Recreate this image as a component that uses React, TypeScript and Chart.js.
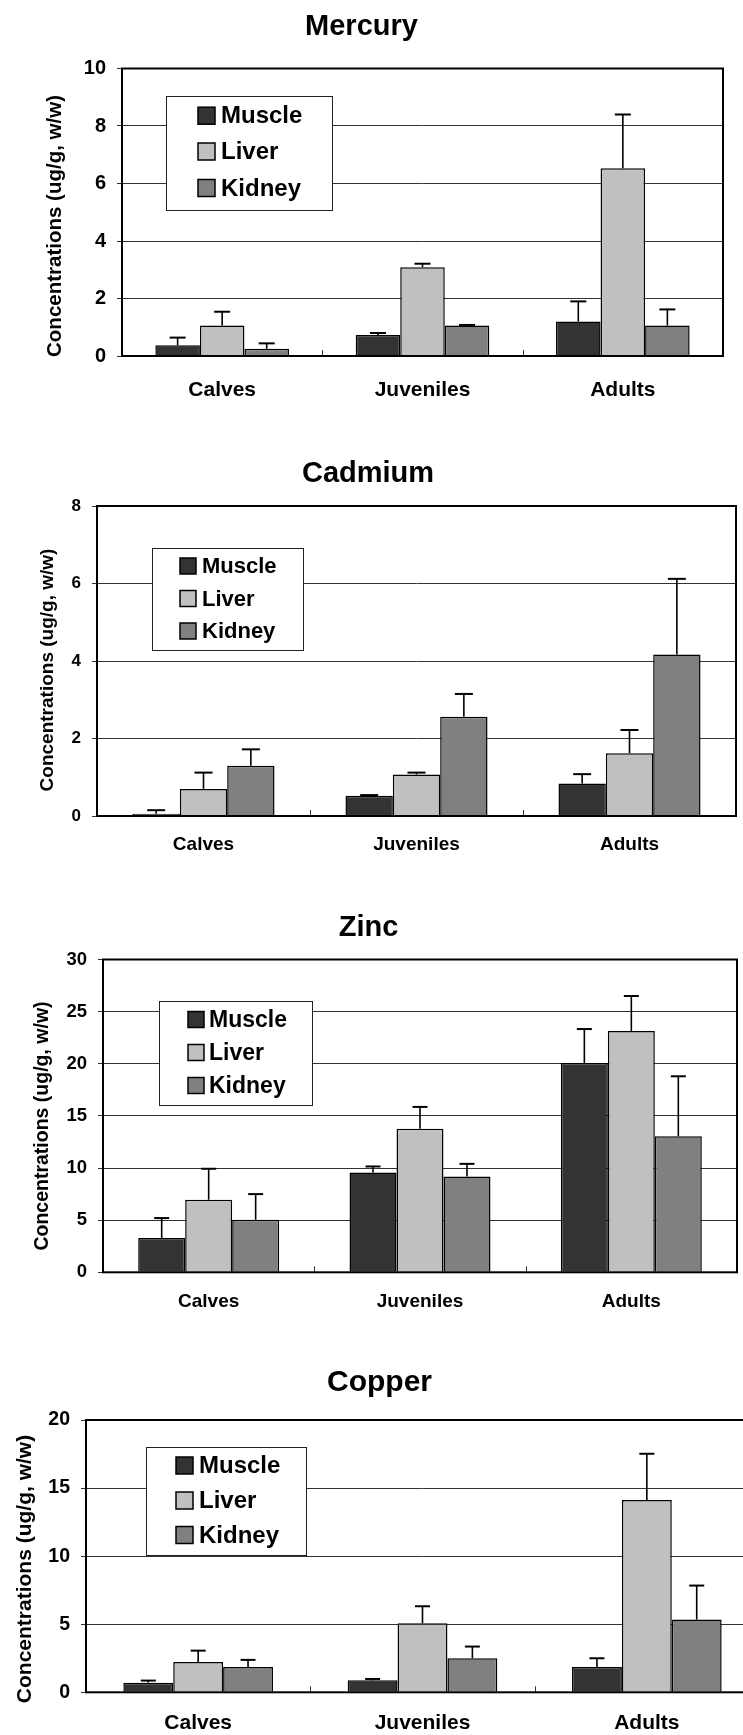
import React, { useEffect, useRef } from "react";
import { Chart, registerables } from "chart.js";

Chart.register(...registerables);

// ---------- data ----------
const CATEGORIES = ["Calves", "Juveniles", "Adults"];
const SERIES = ["Muscle", "Liver", "Kidney"];
const Y_TITLE = "Concentrations (ug/g, w/w)";

const MERCURY_TITLE = "Mercury";
const MERCURY_TICKS = [0, 2, 4, 6, 8, 10];
const MERCURY_MUSCLE = [0.37, 0.73, 1.2];
const MERCURY_MUSCLE_SD = [0.27, 0.07, 0.7];
const MERCURY_LIVER = [1.06, 3.09, 6.53];
const MERCURY_LIVER_SD = [0.48, 0.12, 1.87];
const MERCURY_KIDNEY = [0.25, 1.06, 1.06];
const MERCURY_KIDNEY_SD = [0.19, 0.02, 0.56];

const CADMIUM_TITLE = "Cadmium";
const CADMIUM_TICKS = [0, 2, 4, 6, 8];
const CADMIUM_MUSCLE = [0.06, 0.52, 0.84];
const CADMIUM_MUSCLE_SD = [0.09, 0.02, 0.24];
const CADMIUM_LIVER = [0.7, 1.07, 1.62];
const CADMIUM_LIVER_SD = [0.42, 0.05, 0.6];
const CADMIUM_KIDNEY = [1.3, 2.56, 4.17];
const CADMIUM_KIDNEY_SD = [0.42, 0.59, 1.95];

const ZINC_TITLE = "Zinc";
const ZINC_TICKS = [0, 5, 10, 15, 20, 25, 30];
const ZINC_MUSCLE = [3.3, 9.58, 20.08];
const ZINC_MUSCLE_SD = [1.9, 0.57, 3.25];
const ZINC_LIVER = [6.96, 13.76, 23.14];
const ZINC_LIVER_SD = [2.97, 2.1, 3.36];
const ZINC_KIDNEY = [5.04, 9.19, 13.05];
const ZINC_KIDNEY_SD = [2.46, 1.21, 5.75];

const COPPER_TITLE = "Copper";
const COPPER_TICKS = [0, 5, 10, 15, 20];
const COPPER_MUSCLE = [0.71, 0.88, 1.86];
const COPPER_MUSCLE_SD = [0.15, 0.1, 0.64];
const COPPER_LIVER = [2.23, 5.07, 14.12];
const COPPER_LIVER_SD = [0.83, 1.25, 3.4];
const COPPER_KIDNEY = [1.86, 2.5, 5.34];
const COPPER_KIDNEY_SD = [0.52, 0.86, 2.5];

// ---------- styles / layout ----------
const FONT = "'Liberation Sans', Arial, Helvetica, sans-serif";
const COLORS = ["#333333", "#c0c0c0", "#808080"];
const CANVAS_W = 790;

type Layout = {
  top: number;
  height: number;
  plotLeft: number;
  plotRight: number;
  plotTop: number;
  plotBottom: number;
  titleY: number;
  titleSize: number;
  tickSize: number;
  labelSize: number;
  labelY: number;
  yTitleX: number;
  yTitleY: number;
  yTitleSize: number;
  legend: {
    x: number;
    y: number;
    w: number;
    h: number;
    swX: number;
    sw: number;
    rows: number[];
    textX: number;
    textSize: number;
  };
  cap: number;
};

const MERCURY_LAYOUT: Layout = {
  top: 0, height: 406,
  plotLeft: 122, plotRight: 723, plotTop: 68.5, plotBottom: 356,
  titleY: 26.5, titleSize: 29, tickSize: 20, labelSize: 21, labelY: 390,
  yTitleX: 55, yTitleY: 226, yTitleSize: 20.5,
  legend: { x: 166, y: 96, w: 166, h: 114, swX: 198, sw: 17, rows: [115.7, 151.5, 188], textX: 221, textSize: 24 },
  cap: 16,
};
const CADMIUM_LAYOUT: Layout = {
  top: 440, height: 421,
  plotLeft: 97, plotRight: 736, plotTop: 506, plotBottom: 816,
  titleY: 473.5, titleSize: 29, tickSize: 17, labelSize: 19, labelY: 845,
  yTitleX: 48, yTitleY: 670, yTitleSize: 19,
  legend: { x: 152, y: 548, w: 151, h: 102, swX: 180, sw: 16, rows: [566, 598.5, 631], textX: 202, textSize: 22 },
  cap: 18,
};
const ZINC_LAYOUT: Layout = {
  top: 885, height: 432,
  plotLeft: 103, plotRight: 737, plotTop: 959.5, plotBottom: 1272.3,
  titleY: 927.5, titleSize: 29, tickSize: 18.5, labelSize: 19, labelY: 1302,
  yTitleX: 43, yTitleY: 1126, yTitleSize: 19.5,
  legend: { x: 159, y: 1001, w: 153, h: 104, swX: 188, sw: 16, rows: [1019.5, 1052.5, 1085.5], textX: 209, textSize: 23 },
  cap: 15,
};
const COPPER_LAYOUT: Layout = {
  top: 1335, height: 400,
  plotLeft: 86, plotRight: 759, plotTop: 1420, plotBottom: 1692.3,
  titleY: 1382.5, titleSize: 30, tickSize: 19.5, labelSize: 21, labelY: 1723,
  yTitleX: 25, yTitleY: 1569, yTitleSize: 21,
  legend: { x: 146, y: 1447, w: 160, h: 108, swX: 176, sw: 17, rows: [1465.5, 1500.5, 1535], textX: 199, textSize: 24 },
  cap: 15,
};

type Spec = {
  title: string;
  ticks: number[];
  values: number[][];
  errors: number[][];
  layout: Layout;
};

const SPECS: Spec[] = [
  {
    title: MERCURY_TITLE, ticks: MERCURY_TICKS,
    values: [MERCURY_MUSCLE, MERCURY_LIVER, MERCURY_KIDNEY],
    errors: [MERCURY_MUSCLE_SD, MERCURY_LIVER_SD, MERCURY_KIDNEY_SD],
    layout: MERCURY_LAYOUT,
  },
  {
    title: CADMIUM_TITLE, ticks: CADMIUM_TICKS,
    values: [CADMIUM_MUSCLE, CADMIUM_LIVER, CADMIUM_KIDNEY],
    errors: [CADMIUM_MUSCLE_SD, CADMIUM_LIVER_SD, CADMIUM_KIDNEY_SD],
    layout: CADMIUM_LAYOUT,
  },
  {
    title: ZINC_TITLE, ticks: ZINC_TICKS,
    values: [ZINC_MUSCLE, ZINC_LIVER, ZINC_KIDNEY],
    errors: [ZINC_MUSCLE_SD, ZINC_LIVER_SD, ZINC_KIDNEY_SD],
    layout: ZINC_LAYOUT,
  },
  {
    title: COPPER_TITLE, ticks: COPPER_TICKS,
    values: [COPPER_MUSCLE, COPPER_LIVER, COPPER_KIDNEY],
    errors: [COPPER_MUSCLE_SD, COPPER_LIVER_SD, COPPER_KIDNEY_SD],
    layout: COPPER_LAYOUT,
  },
];

function makePlugins(L: Layout) {
  const T = L.top;
  const frame = {
    id: "frame",
    afterDatasetsDraw(chart: any) {
      const { ctx, chartArea } = chart;
      const xs = chart.scales.x;
      ctx.save();
      // inside category-boundary tick marks
      ctx.strokeStyle = "#333";
      ctx.lineWidth = 1;
      const n = chart.data.labels.length;
      for (let i = 1; i < n; i++) {
        const x = Math.round((xs.getPixelForValue(i - 1) + xs.getPixelForValue(i)) / 2) + 0.5;
        ctx.beginPath();
        ctx.moveTo(x, chartArea.bottom);
        ctx.lineTo(x, chartArea.bottom - 6);
        ctx.stroke();
      }
      ctx.strokeStyle = "#000";
      ctx.lineWidth = 2;
      ctx.strokeRect(chartArea.left, chartArea.top, chartArea.right - chartArea.left, chartArea.bottom - chartArea.top);
      ctx.restore();
    },
  };
  const errorBars = {
    id: "errorBars",
    afterDatasetsDraw(chart: any) {
      const { ctx } = chart;
      const ys = chart.scales.y;
      ctx.save();
      ctx.strokeStyle = "#000";
      chart.data.datasets.forEach((ds: any, di: number) => {
        const meta = chart.getDatasetMeta(di);
        meta.data.forEach((bar: any, i: number) => {
          const v = ds.data[i];
          const e = ds.errors[i];
          const yTop = ys.getPixelForValue(v + e);
          ctx.lineWidth = 1.6;
          ctx.beginPath();
          ctx.moveTo(bar.x, bar.y);
          ctx.lineTo(bar.x, yTop);
          ctx.stroke();
          ctx.lineWidth = 2;
          ctx.beginPath();
          ctx.moveTo(bar.x - L.cap / 2, yTop);
          ctx.lineTo(bar.x + L.cap / 2, yTop);
          ctx.stroke();
        });
      });
      ctx.restore();
    },
  };
  const legendBox = {
    id: "legendBox",
    afterDraw(chart: any) {
      const { ctx } = chart;
      const lg = L.legend;
      ctx.save();
      ctx.fillStyle = "#fff";
      ctx.fillRect(lg.x, lg.y - T, lg.w, lg.h);
      ctx.strokeStyle = "#222";
      ctx.lineWidth = 1;
      ctx.strokeRect(Math.round(lg.x) + 0.5, Math.round(lg.y - T) + 0.5, lg.w, lg.h);
      chart.data.datasets.forEach((ds: any, i: number) => {
        const cy = lg.rows[i] - T;
        ctx.fillStyle = ds.backgroundColor;
        ctx.fillRect(lg.swX, cy - lg.sw / 2, lg.sw, lg.sw);
        ctx.strokeStyle = "#000";
        ctx.lineWidth = 1.5;
        ctx.strokeRect(lg.swX, cy - lg.sw / 2, lg.sw, lg.sw);
        ctx.fillStyle = "#000";
        ctx.font = `bold ${lg.textSize}px ${FONT}`;
        ctx.textAlign = "left";
        ctx.textBaseline = "middle";
        ctx.fillText(ds.label, lg.textX, cy + 1);
      });
      ctx.restore();
    },
  };
  const yTitle = {
    id: "yTitle",
    afterDraw(chart: any) {
      const { ctx } = chart;
      ctx.save();
      ctx.translate(L.yTitleX, L.yTitleY - T);
      ctx.rotate(-Math.PI / 2);
      ctx.fillStyle = "#000";
      ctx.font = `bold ${L.yTitleSize}px ${FONT}`;
      ctx.textAlign = "center";
      ctx.textBaseline = "middle";
      ctx.fillText(Y_TITLE, 0, 0);
      ctx.restore();
    },
  };
  return [frame, errorBars, legendBox, yTitle];
}

function MetalChart({ spec }: { spec: Spec }) {
  const ref = useRef<HTMLCanvasElement | null>(null);
  const L = spec.layout;
  useEffect(() => {
    if (!ref.current) return;
    const T = L.top;
    const lh = L.titleSize * 1.2;
    const titlePadTop = L.titleY - T - lh / 2;
    const titlePadBottom = L.plotTop - T - titlePadTop - lh;
    const xAxisH = L.height - (L.plotBottom - T);
    const labelPad = L.labelY - L.plotBottom - L.labelSize * 0.6;
    const ticks = spec.ticks;
    const chart = new Chart(ref.current, {
      type: "bar",
      data: {
        labels: CATEGORIES,
        datasets: SERIES.map((name, i) => ({
          label: name,
          data: spec.values[i],
          errors: spec.errors[i],
          backgroundColor: COLORS[i],
          borderColor: "#000",
          borderWidth: 1.5,
          categoryPercentage: 0.667,
          barPercentage: 1,
        })) as any,
      },
      options: {
        responsive: false,
        animation: false,
        devicePixelRatio: 1,
        layout: { padding: { left: 0, right: CANVAS_W - L.plotRight, top: 0, bottom: 0 } },
        plugins: {
          legend: { display: false },
          tooltip: { enabled: false },
          title: {
            display: true,
            text: spec.title,
            color: "#000",
            font: { family: FONT, size: L.titleSize, weight: "bold" },
            padding: { top: titlePadTop, bottom: titlePadBottom },
          },
        },
        scales: {
          x: {
            type: "category",
            offset: true,
            grid: { display: false, drawTicks: false },
            border: { display: false },
            ticks: {
              color: "#000",
              padding: labelPad,
              maxRotation: 0,
              autoSkip: false,
              font: { family: FONT, size: L.labelSize, weight: "bold" },
            },
            afterFit: (s: any) => {
              s.height = xAxisH;
            },
          },
          y: {
            min: ticks[0],
            max: ticks[ticks.length - 1],
            grid: { color: "#333", lineWidth: 1, tickLength: 5, drawTicks: true },
            border: { display: false },
            ticks: {
              stepSize: ticks[1] - ticks[0],
              color: "#000",
              padding: 11,
              font: { family: FONT, size: L.tickSize, weight: "bold" },
            },
            afterFit: (s: any) => {
              s.width = L.plotLeft;
            },
          },
        },
      } as any,
      plugins: makePlugins(L) as any,
    });
    return () => chart.destroy();
  }, [spec]);
  return (
    <div style={{ position: "absolute", left: 0, top: L.top, width: CANVAS_W, height: L.height }}>
      <canvas ref={ref} width={CANVAS_W} height={L.height} style={{ display: "block" }} />
    </div>
  );
}

export default function App() {
  return (
    <div
      style={{
        position: "absolute",
        left: 0,
        top: 0,
        width: 743,
        height: 1735,
        overflow: "hidden",
        background: "#fff",
      }}
    >
      {SPECS.map((s) => (
        <MetalChart key={s.title} spec={s} />
      ))}
    </div>
  );
}
